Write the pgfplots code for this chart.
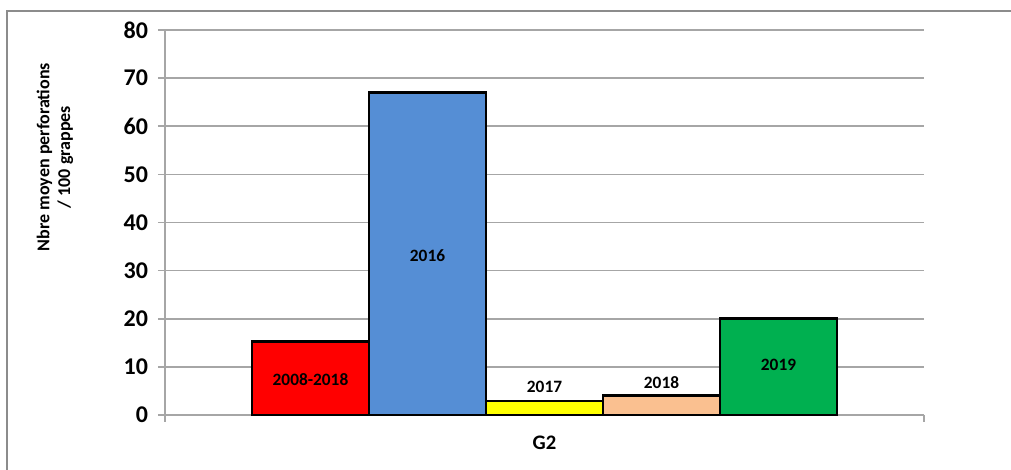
\documentclass[border=0pt]{standalone}
\usepackage{pgfplots}
\pgfplotsset{compat=1.18}
\usepackage{fontspec}
\setmainfont{Carlito}
\definecolor{cred}{HTML}{FF0000}
\definecolor{cblue}{HTML}{558ED5}
\definecolor{cyellow}{HTML}{FFFF00}
\definecolor{cpeach}{HTML}{FAC090}
\definecolor{cgreen}{HTML}{00B050}
\definecolor{cgrid}{HTML}{A6A6A6}
\definecolor{cframe}{HTML}{8C8C8C}

\begin{document}
\begin{tikzpicture}
\useasboundingbox (-123.75pt,-41.25pt) rectangle (634.5pt,311.25pt);
\draw[cframe, line width=1pt] (640pt,303pt) -- (-118.5pt,303pt) -- (-118.5pt,-50pt);
\begin{axis}[
 scale only axis, width=569.25pt, height=288.75pt,
 xmin=-1.2436, xmax=5.2436, ymin=0, ymax=80,
 axis lines=left, axis line style={-, cgrid, line width=1.2pt},
 ytick={0,10,...,80}, ymajorgrids, grid style={cgrid, line width=1.2pt},
 xtick={-1.2436,5.2436}, xticklabels={},
 tick align=outside, major tick length=5.25pt, tick style={cgrid, line width=1.2pt},
 /pgf/number format/assume math mode=true,
 yticklabel style={font=\fontsize{18}{18}\selectfont\bfseries, xshift=-4pt},
 xlabel={G2}, xlabel style={font=\fontsize{15.5}{15}\selectfont\bfseries, at={(axis description cs:0.5,0)}, anchor=center, yshift=-21pt},
 ylabel={Nbre moyen perforations\\/ 100 grappes},
 ylabel style={align=center, font=\fontsize{13.5}{15.5}\selectfont\bfseries, at={(axis description cs:-0.145,0.67)}, anchor=center},
 clip=false,
]
\addplot[ybar, bar shift=0pt, bar width=1, fill=cred, draw=black, line width=2.1pt] coordinates {(0,15.2)};
\addplot[ybar, bar shift=0pt, bar width=1, fill=cblue, draw=black, line width=2.1pt] coordinates {(1,67)};
\addplot[ybar, bar shift=0pt, bar width=1, fill=cyellow, draw=black, line width=2.1pt] coordinates {(2,2.9)};
\addplot[ybar, bar shift=0pt, bar width=1, fill=cpeach, draw=black, line width=2.1pt] coordinates {(3,4)};
\addplot[ybar, bar shift=0pt, bar width=1, fill=cgreen, draw=black, line width=2.1pt] coordinates {(4,20)};
\node[font=\fontsize{13}{14}\selectfont\bfseries] at (axis cs:0,7.27) {2008-2018};
\node[font=\fontsize{13}{14}\selectfont\bfseries] at (axis cs:1,33.2) {2016};
\node[font=\fontsize{13}{14}\selectfont\bfseries] at (axis cs:2,5.77) {2017};
\node[font=\fontsize{13}{14}\selectfont\bfseries] at (axis cs:3,6.7) {2018};
\node[font=\fontsize{13}{14}\selectfont\bfseries] at (axis cs:4,10.4) {2019};
\end{axis}
\end{tikzpicture}
\end{document}
